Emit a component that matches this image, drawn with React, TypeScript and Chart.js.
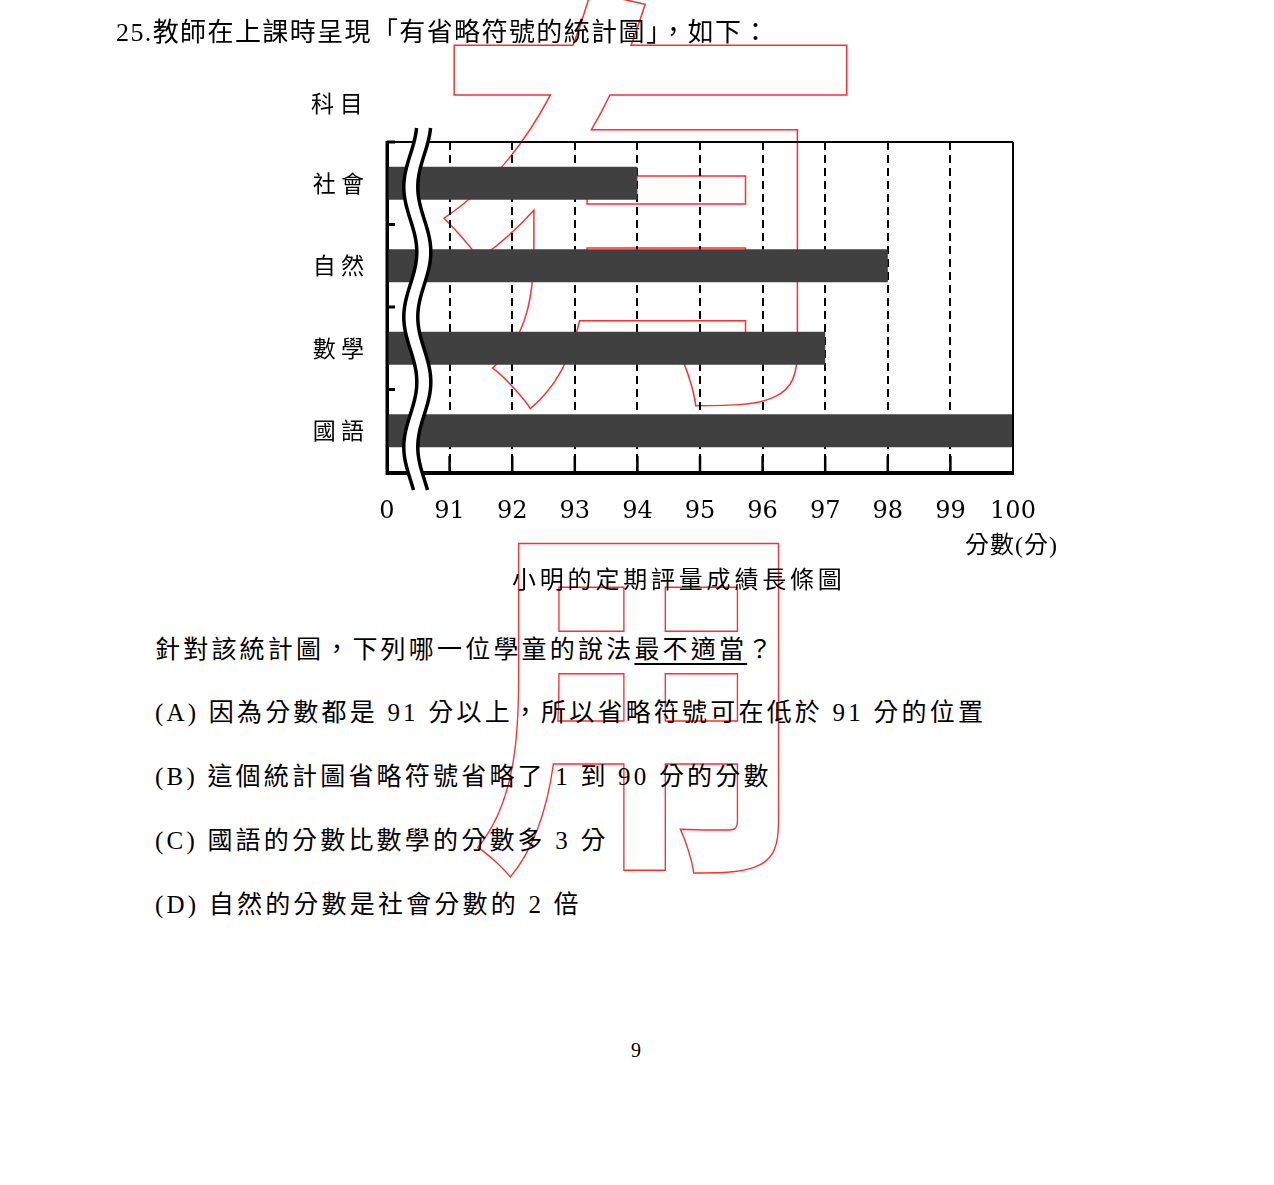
import React, { useEffect, useRef } from 'react';
import { Chart, registerables } from 'chart.js';

Chart.register(...registerables);

// ---- data ----
const subjects = ['社 會', '自 然', '數 學', '國 語'];
const scores = [94, 98, 97, 100];
const axisMin = 90;
const axisMax = 100;
const xTickLabels = ['0', '91', '92', '93', '94', '95', '96', '97', '98', '99', '100'];

const CJK = "'Liberation Serif', 'Noto Sans CJK TC', serif";

const framePlugin = {
  id: 'frameAndBreak',
  afterDatasetsDraw(chart: any) {
    const { ctx, chartArea: a } = chart;
    const xs = chart.scales.x;
    const ys = chart.scales.y;
    ctx.save();
    ctx.strokeStyle = '#000';
    ctx.setLineDash([]);
    // top + right frame
    const xr = xs.getPixelForValue(axisMax);
    ctx.lineWidth = 2;
    ctx.beginPath();
    ctx.moveTo(a.left, a.top);
    ctx.lineTo(xr, a.top);
    ctx.moveTo(xr, a.top);
    ctx.lineTo(xr, a.bottom);
    ctx.stroke();
    // left + bottom axes
    ctx.lineWidth = 3;
    ctx.beginPath();
    ctx.moveTo(a.left, a.top - 1);
    ctx.lineTo(a.left, a.bottom + 1.5);
    ctx.lineTo(xr + 1, a.bottom + 1.5);
    ctx.stroke();
    // inward ticks on y (category boundaries)
    ctx.lineWidth = 3;
    ctx.beginPath();
    for (let i = 0; i < subjects.length; i++) {
      const y = ys.getPixelForValue(i - 0.5);
      ctx.moveTo(a.left, y);
      ctx.lineTo(a.left + 8, y);
    }
    ctx.stroke();
    // inward ticks on x
    ctx.lineWidth = 2.5;
    ctx.beginPath();
    for (let v = axisMin + 1; v < axisMax; v++) {
      const x = xs.getPixelForValue(v);
      ctx.moveTo(x, a.bottom);
      ctx.lineTo(x, a.bottom - 16);
    }
    ctx.stroke();
    // break symbol (two wavy lines)
    const xc = xs.getPixelForValue(axisMin + 0.5) - 1;
    const amp = 6.5;
    const period = 130;
    const y0 = a.top - 52.5;
    const yTop = a.top - 14;
    const yBot = a.bottom + 18;
    const wave = (y: number) => amp * Math.sin((2 * Math.PI * (y - y0)) / period);
    const half = 7;
    ctx.fillStyle = '#fff';
    ctx.beginPath();
    for (let y = yTop; y <= yBot; y += 1) {
      const x = xc - half + wave(y);
      if (y === yTop) ctx.moveTo(x, y);
      else ctx.lineTo(x, y);
    }
    for (let y = yBot; y >= yTop; y -= 1) {
      ctx.lineTo(xc + half + wave(y), y);
    }
    ctx.closePath();
    ctx.fill();
    ctx.lineWidth = 3.5;
    for (const off of [-half, half]) {
      ctx.beginPath();
      for (let y = yTop; y <= yBot; y += 1) {
        const x = xc + off + wave(y);
        if (y === yTop) ctx.moveTo(x, y);
        else ctx.lineTo(x, y);
      }
      ctx.stroke();
    }
    ctx.restore();
  },
};

function BarChart() {
  const ref = useRef<HTMLCanvasElement | null>(null);
  useEffect(() => {
    if (!ref.current) return;
    const chart = new Chart(ref.current, {
      type: 'bar',
      data: {
        labels: subjects,
        datasets: [
          {
            data: scores,
            backgroundColor: '#404040',
            borderWidth: 0,
            barPercentage: 0.4,
            categoryPercentage: 1,
          },
        ],
      },
      options: {
        indexAxis: 'y',
        responsive: false,
        maintainAspectRatio: false,
        animation: false,
        events: [],
        layout: { padding: { left: 290, right: 261, top: 142, bottom: 0 } },
        plugins: { legend: { display: false }, tooltip: { enabled: false } },
        scales: {
          x: {
            type: 'linear',
            min: axisMin,
            max: axisMax,
            position: 'bottom',
            afterFit: (s: any) => {
              s.height = 148;
            },
            ticks: {
              stepSize: 1,
              autoSkip: false,
              maxRotation: 0,
              padding: 25,
              color: '#000',
              font: { family: 'DejaVu Serif', size: 24 },
              callback: (_v: any, i: number) => xTickLabels[i],
            },
            grid: {
              drawTicks: false,
              color: (c: any) =>
                c.tick && (c.tick.value === axisMin || c.tick.value === axisMax) ? 'rgba(0,0,0,0)' : '#000',
              lineWidth: 2,
            },
            border: { display: true, color: '#000', width: 3, dash: [8, 5] },
          },
          y: {
            type: 'category',
            afterFit: (s: any) => {
              s.width = 97;
            },
            ticks: {
              padding: 23,
              color: '#000',
              font: { family: 'Noto Sans CJK TC', size: 23 },
            },
            grid: { display: false, drawTicks: false },
            border: { display: true, color: '#000', width: 3 },
          },
        },
      } as any,
      plugins: [framePlugin],
    });
    return () => chart.destroy();
  }, []);
  return (
    <canvas
      ref={ref}
      width={1274}
      height={620}
      style={{ position: 'absolute', left: 0, top: 0, width: 1274, height: 620, zIndex: 1 }}
    />
  );
}

function Line(props: {
  left: number;
  cy: number;
  size: number;
  ls?: number;
  family?: string;
  children: React.ReactNode;
}) {
  return (
    <div
      style={{
        position: 'absolute',
        left: props.left,
        top: props.cy - 16,
        height: 32,
        lineHeight: '32px',
        fontSize: props.size,
        letterSpacing: props.ls ?? 0,
        fontFamily: props.family ?? CJK,
        whiteSpace: 'nowrap',
        color: '#000',
        zIndex: 2,
      }}
    >
      {props.children}
    </div>
  );
}

export default function App() {
  const wm: React.CSSProperties = {
    position: 'absolute',
    lineHeight: 1,
    fontFamily: 'Noto Sans CJK TC',
    fontWeight: 700,
    color: 'transparent',
    WebkitTextStroke: '1.5px #ff2e2e',
    zIndex: 0,
    whiteSpace: 'nowrap',
    transformOrigin: '0 0',
  } as any;
  return (
    <div
      style={{
        position: 'absolute',
        left: 0,
        top: 0,
        width: 1274,
        height: 1185,
        background: '#fff',
        overflow: 'hidden',
      }}
    >
      <div style={{ ...wm, left: 430, top: -45, fontSize: 440 }}>有</div>
      <div style={{ ...wm, left: 470, top: 485, fontSize: 380, transform: 'scaleX(0.9)' }}>用</div>
      <BarChart />
      <Line left={116} cy={33} size={26} ls={1.4}>
        25.教師在上課時呈現「有省略符號的統計圖」，如下：
      </Line>
      <Line left={311} cy={105} size={23}>
        科 目
      </Line>
      <Line left={965} cy={545} size={24} ls={1}>
        分數(分)
      </Line>
      <Line left={512} cy={580} size={24} ls={3.8}>
        小明的定期評量成績長條圖
      </Line>
      <Line left={155} cy={650} size={25} ls={3.2}>
        針對該統計圖，下列哪一位學童的說法
        <span style={{ textDecoration: 'underline', textUnderlineOffset: '5px' }}>最不適當</span>？
      </Line>
      <Line left={155} cy={713} size={25} ls={3.2}>
        (A) 因為分數都是 91 分以上，所以省略符號可在低於 91 分的位置
      </Line>
      <Line left={155} cy={777} size={25} ls={3.2}>
        (B) 這個統計圖省略符號省略了 1 到 90 分的分數
      </Line>
      <Line left={155} cy={841} size={25} ls={3.2}>
        (C) 國語的分數比數學的分數多 3 分
      </Line>
      <Line left={155} cy={905} size={25} ls={3.2}>
        (D) 自然的分數是社會分數的 2 倍
      </Line>
      <Line left={631} cy={1050} size={20} family="'Liberation Serif', serif">
        9
      </Line>
    </div>
  );
}
